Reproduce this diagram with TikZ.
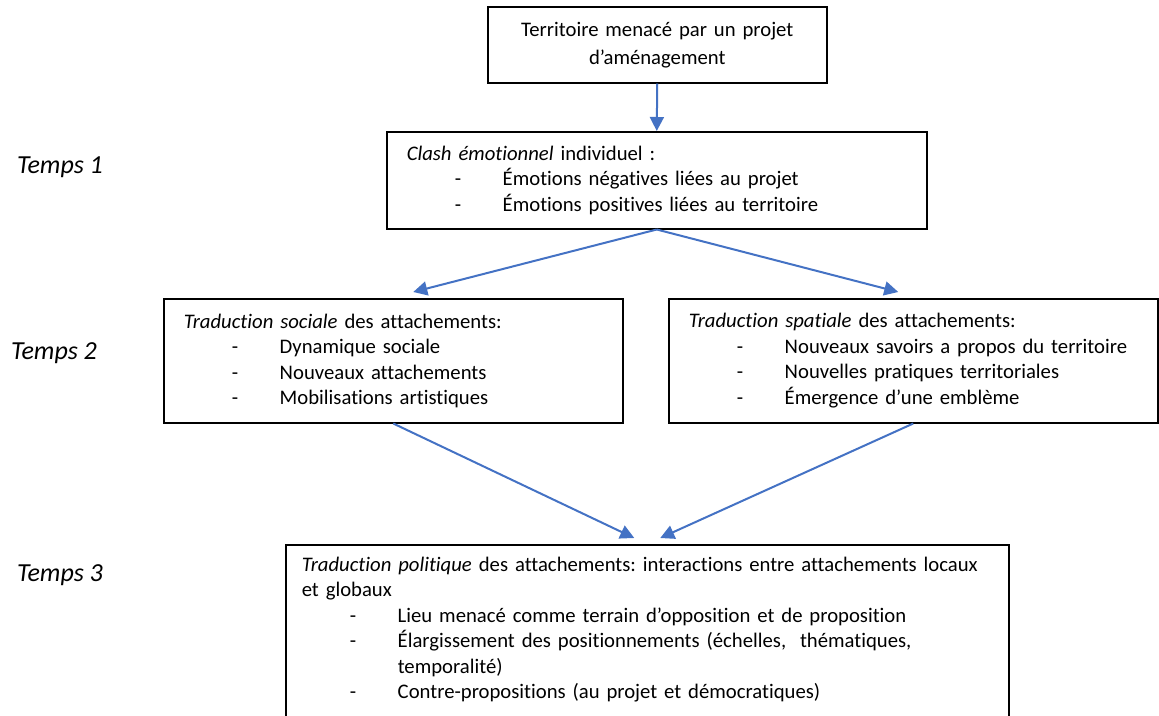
\documentclass[tikz,border=0pt]{standalone}
\usepackage{fontspec}
\setmainfont{Carlito}[Ligatures=NoCommon]
\usetikzlibrary{arrows.meta}
\definecolor{fleche}{HTML}{4472C4}
\frenchspacing
\newcommand\puce[1]{\hspace*{48pt}\makebox[48pt][l]{-}#1}
\newcommand\suite[1]{\hspace*{96pt}#1}
\tikzset{
  boite/.style={draw,line width=1.5pt,anchor=north west,align=left,inner xsep=20pt,inner ysep=4pt,
    font=\fontsize{20.7}{25.5}\selectfont},
  fl/.style={draw=fleche,line width=2pt,-{Triangle[length=14pt,width=14pt]}},
  temps/.style={font=\fontsize{26}{30}\selectfont\itshape}
}
\begin{document}
\begin{tikzpicture}[x=1pt,y=-1pt]
  \useasboundingbox (0,0) rectangle (1159,715);
  \node[boite,align=center,text width=299pt,minimum height=76pt,font=\fontsize{20.7}{28}\selectfont] (terr) at (487,6)
    {Territoire menacé par un projet\\d’aménagement};
  \node[boite,text width=500pt,minimum height=97pt] (clash) at (386,131)
    {\textit{Clash émotionnel} individuel :\\
     \puce{Émotions négatives liées au projet}\\
     \puce{Émotions positives liées au territoire}};
  \node[boite,text width=419pt,minimum height=124pt] (sociale) at (163,298)
    {\textit{Traduction sociale} des attachements:\\
     \puce{Dynamique sociale}\\
     \puce{Nouveaux attachements}\\
     \puce{Mobilisations artistiques}};
  \node[boite,text width=449pt,minimum height=124pt] (spatiale) at (668,298)
    {\textit{Traduction spatiale} des attachements:\\
     \puce{Nouveaux savoirs a propos du territoire}\\
     \puce{Nouvelles pratiques territoriales}\\
     \puce{Émergence d’une emblème}};
  \node[boite,text width=691pt,inner xsep=16pt,inner ysep=12pt] (politique) at (285,544)
    {\textit{Traduction politique} des attachements: interactions entre attachements locaux\\
     et globaux\\
     \puce{Lieu menacé comme terrain d’opposition et de proposition}\\
     \puce{Élargissement des positionnements (échelles,~ thématiques,}\\
     \suite{temporalité)}\\
     \puce{Contre-propositions (au projet et démocratiques)}\\
     \mbox{}};

  \node[temps] (t1) at (60,167) {Temps 1};
  \node[temps] (t2) at (54,353) {Temps 2};
  \node[temps] (t3) at (60,575) {Temps 3};

  \draw[fl] (terr.south) -- (clash.north);
  \draw[fl] (clash.south) -- ([xshift=20pt,yshift=6pt]sociale.north);
  \draw[fl] (clash.south) -- ([xshift=-15pt,yshift=6pt]spatiale.north);
  \draw[fl] (sociale.south) -- ([xshift=-13pt,yshift=6pt]politique.north);
  \draw[fl] (spatiale.south) -- ([xshift=13pt,yshift=6pt]politique.north);
\end{tikzpicture}
\end{document}
